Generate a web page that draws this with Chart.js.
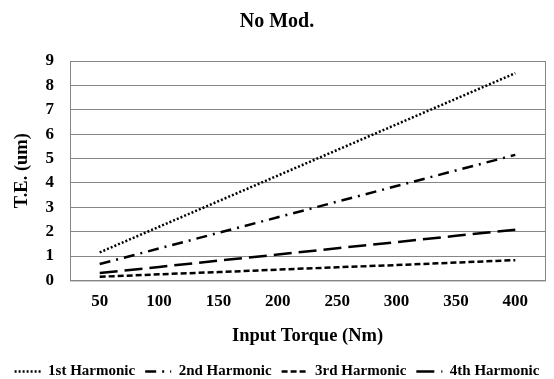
<!DOCTYPE html>
<html>
<head>
<meta charset="utf-8">
<script src="https://cdn.jsdelivr.net/npm/chart.js@4/dist/chart.umd.min.js"></script>
<style>
  html, body { margin: 0; padding: 0; background: #fff; }
  #wrap { width: 554px; height: 379px; position: relative; }
</style>
</head>
<body>
<div id="wrap"><canvas id="chart"></canvas></div>
<script>
const torque = ['50', '100', '150', '200', '250', '300', '350', '400'];
const harm1 = [1.15, 2.2, 3.25, 4.3, 5.35, 6.4, 7.45, 8.5];
const harm2 = [0.67, 1.31, 1.95, 2.59, 3.23, 3.87, 4.51, 5.15];
const harm3 = [0.15, 0.25, 0.34, 0.44, 0.54, 0.63, 0.73, 0.83];
const harm4 = [0.3, 0.55, 0.81, 1.06, 1.32, 1.57, 1.83, 2.08];

const serif = '"Liberation Serif", "Times New Roman", serif';

// box around the plot area
const frame = {
  id: 'frame',
  afterDraw(chart) {
    const {ctx, chartArea: a} = chart;
    ctx.save();
    ctx.strokeStyle = '#868686';
    ctx.lineWidth = 1;
    ctx.strokeRect(a.left + 0.5, a.top + 0.5, a.right - a.left, a.bottom - a.top);
    ctx.restore();
  }
};

function line(label, data, dash) {
  return {label, data, borderColor: '#000', backgroundColor: 'rgba(0,0,0,0)', borderWidth: 2.5,
    borderDash: dash, pointRadius: 0, tension: 0, fill: false};
}

new Chart(document.getElementById('chart'), {
  type: 'line',
  data: {
    labels: torque,
    datasets: [
      line('1st Harmonic', harm1, [2, 2]),
      line('2nd Harmonic', harm2, [11, 6, 2, 6]),
      line('3rd Harmonic', harm3, [6, 3]),
      line('4th Harmonic', harm4, [18, 7])
    ]
  },
  options: {
    responsive: true,
    maintainAspectRatio: false,
    animation: false,
    layout: { padding: { left: 0, right: 0, top: 6, bottom: -10 } },
    plugins: {
      title: { display: true, text: 'No Mod.', color: '#000', font: { family: serif, size: 20, weight: 'bold' }, padding: { top: 4, bottom: 27 } },
      legend: {
        position: 'bottom',
        labels: {
          color: '#000', font: { family: serif, size: 15, weight: 'bold' },
          usePointStyle: true, pointStyleWidth: 26, padding: 10,
          generateLabels(chart) {
            const items = Chart.defaults.plugins.legend.labels.generateLabels(chart);
            items.forEach(it => {
              const ds = chart.data.datasets[it.datasetIndex];
              it.pointStyle = 'line';
              it.lineDash = ds.borderDash;
              it.lineWidth = ds.borderWidth;
              it.strokeStyle = '#000';
            });
            return items;
          }
        }
      },
      tooltip: { enabled: false }
    },
    scales: {
      x: {
        offset: true,
        grid: { display: false, drawTicks: false },
        border: { color: '#868686' },
        ticks: { color: '#000', font: { family: serif, size: 17, weight: 'bold' }, maxRotation: 0, padding: 11 },
        title: { display: true, text: 'Input Torque (Nm)', color: '#000', font: { family: serif, size: 18.5, weight: 'bold' }, padding: { top: 2, bottom: 7 } }
      },
      y: {
        min: 0, max: 9,
        grid: { color: '#868686', drawTicks: false },
        border: { color: '#868686' },
        ticks: { stepSize: 1, autoSkip: false, color: '#000', font: { family: serif, size: 17, weight: 'bold' }, padding: 16 },
        title: { display: true, text: 'T.E. (um)', color: '#000', font: { family: serif, size: 18.5, weight: 'bold' }, padding: { top: 11, bottom: 0 } },
        afterFit(scale) { scale.width = 70; }
      },
      // empty right-hand axis, only keeps a small margin right of the plot
      yr: {
        position: 'right',
        grid: { display: false, drawTicks: false },
        border: { display: false },
        ticks: { display: false },
        afterFit(scale) { scale.width = 9; }
      }
    }
  },
  plugins: [frame]
});
</script>
</body>
</html>
